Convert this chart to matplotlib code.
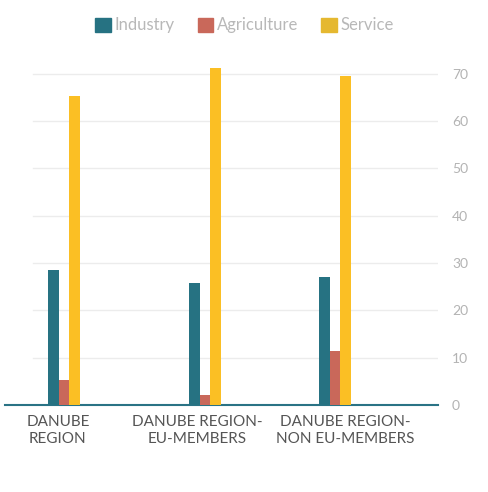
import matplotlib.pyplot as plt
from matplotlib.patches import Patch

categories = ["DANUBE\nREGION", "DANUBE REGION-\nEU-MEMBERS", "DANUBE REGION-\nNON EU-MEMBERS"]
industry = [28.5, 25.8, 27.1]
agriculture = [5.3, 2.1, 11.4]
service = [65.3, 71.2, 69.6]

series = ["Industry", "Agriculture", "Service"]
colors = ["#267282", "#c9685a", "#fbbf24"]
legend_colors = ["#267282", "#c9685a", "#e5b830"]

plt.rcParams['font.family'] = ['Lato', 'DejaVu Sans']

fig = plt.figure(figsize=(4.89, 4.92), dpi=100)
ax = fig.add_axes([0.0102, 0.177, 0.8855, 0.721])

# group centres (uneven in the original) and label centres
pos = [0.0, 1.0, 1.922]
label_pos = [-0.043, 0.943, 1.993]
w = 0.0745

for i, vals in enumerate([industry, agriculture, service]):
    ax.bar([p + (i - 1) * w for p in pos], vals, width=w, color=colors[i], zorder=3)

ax.set_xlim(-0.418, 2.652)
ax.set_ylim(0, 75)

ax.yaxis.tick_right()
ax.set_yticks(range(0, 71, 10))
ax.tick_params(axis='y', length=0, pad=10, labelsize=10, labelcolor="#b3b3b3")
for y in range(10, 71, 10):
    ax.axhline(y, xmin=0.065, xmax=1, color="#ececec", lw=1, zorder=1)

ax.set_xticks(label_pos)
ax.set_xticklabels(categories, fontsize=11, color="#555555", linespacing=1.3)
ax.tick_params(axis='x', length=0, pad=7)

for s in ["top", "right", "left"]:
    ax.spines[s].set_visible(False)
ax.spines["bottom"].set_color("#2a7385")
ax.spines["bottom"].set_linewidth(1.5)

handles = [Patch(color=c) for c in legend_colors]
leg = fig.legend(handles, series, loc="upper center", bbox_to_anchor=(0.5, 0.995), ncol=3,
                 frameon=False, fontsize=12, handlelength=0.95, handleheight=0.95,
                 handletextpad=0.2, columnspacing=1.4)
for t in leg.get_texts():
    t.set_color("#b8b8b8")

fig.savefig("out.png", dpi=100)
